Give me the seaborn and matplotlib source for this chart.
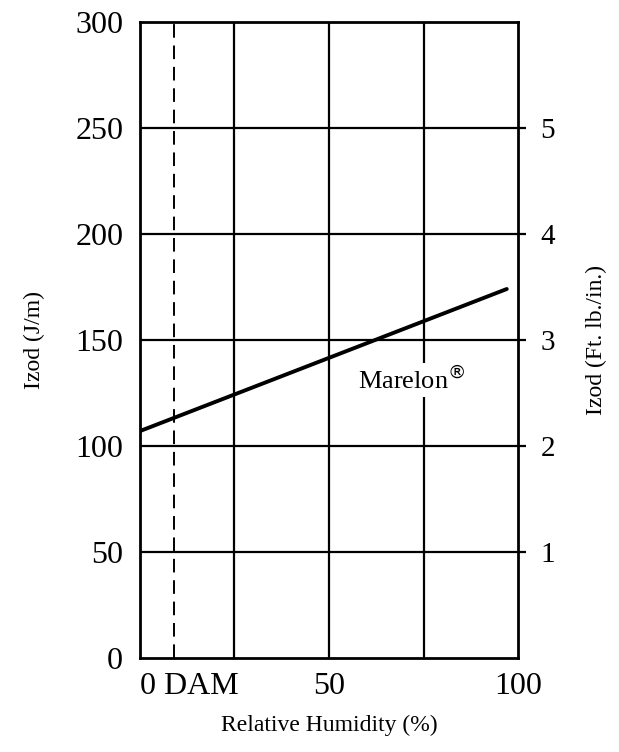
import numpy as np
import pandas as pd
import seaborn as sns
import matplotlib.pyplot as plt

# values
humidity = [0, 97]
izod_jm = [107, 174]
y_ticks = [0, 50, 100, 150, 200, 250, 300]
x_grid = [25, 50, 75]
right_ticks = [1, 2, 3, 4, 5]
dam_x = 9

sns.set_theme(style="white")
plt.rcParams['font.family'] = ['Liberation Serif', 'DejaVu Serif']
plt.rcParams['text.color'] = 'black'
plt.rcParams['axes.labelcolor'] = 'black'
plt.rcParams['xtick.color'] = 'black'
plt.rcParams['ytick.color'] = 'black'

fig = plt.figure(figsize=(6.19, 7.52), dpi=100)
ax = fig.add_axes([0.226, 0.125, 0.611, 0.846])

df = pd.DataFrame({'rh': humidity, 'izod': izod_jm})
sns.lineplot(data=df, x='rh', y='izod', ax=ax, color='black', linewidth=2.8)

for y in y_ticks[1:-1]:
    ax.axhline(y, color='black', lw=1.6, zorder=1)
for x in x_grid:
    ax.axvline(x, color='black', lw=1.6, zorder=1)
ax.axvline(dam_x, color='black', lw=1.4, ls=(0, (7, 4)), zorder=1)

ax.text(72, 131, 'Marelon$^{\\circledR}$', fontsize=19, ha='center', va='center',
        bbox=dict(facecolor='white', edgecolor='none', pad=2), zorder=3)

ax.set_xlim(0, 100)
ax.set_ylim(0, 300)
ax.set_yticks(y_ticks)
ax.set_xticks([0, 50, 100])
ax.set_xticklabels(['0 DAM', '50', '100'])
ax.get_xticklabels()[0].set_horizontalalignment('left')
ax.tick_params(axis='both', labelsize=23, length=0, pad=10)
ax.tick_params(axis='y', pad=12)
ax.set_xlabel('Relative Humidity (%)', fontsize=17, labelpad=10)
ax.set_ylabel('Izod (J/m)', fontsize=17, labelpad=22)
for s in ax.spines.values():
    s.set_color('black')
    s.set_linewidth(2)

ax2 = ax.twinx()
ax2.set_ylim(0, 6)
ax2.set_yticks(right_ticks)
ax2.tick_params(axis='y', labelsize=21, length=6, width=1.6, direction='out', color='black', pad=10)
ax2.set_ylabel('Izod (Ft. lb./in.)', fontsize=17, labelpad=22)
for s in ax2.spines.values():
    s.set_visible(False)

fig.savefig('out.png', dpi=100)
